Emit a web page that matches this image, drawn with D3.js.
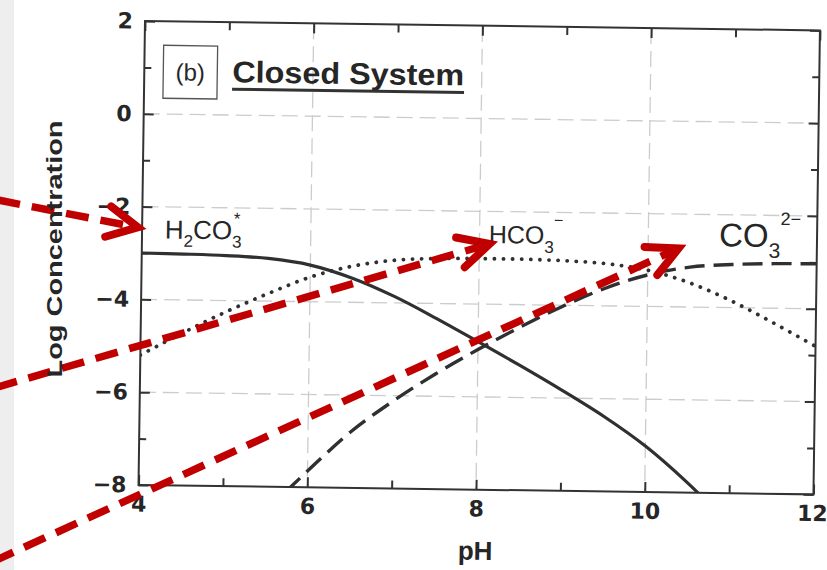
<!DOCTYPE html>
<meta charset="utf-8">
<title>Closed System</title>
<head>
  <script src="https://d3js.org/d3.v7.min.js"></script>
  <style>
    body { margin: 0; background: #fff; }
    text { font-family: "Liberation Sans", Arial, sans-serif; fill: #262626; }
  </style>
</head>
<body>
  <div id="chart"></div>
</body>
<script>
    // values (log concentration, C_T = 10^-3 M)
    var pHValues = [4, 4.5, 5, 5.5, 6, 6.5, 7, 7.5, 8, 8.5, 9, 9.5, 10, 10.5, 11, 11.5, 12];
    var h2co3 = [-3.00, -3.01, -3.03, -3.08, -3.21, -3.48, -3.86, -4.32, -4.81, -5.31, -5.83, -6.38, -7.01, -7.78, -8.66, null, null];
    var hco3  = [-5.20, -4.71, -4.25, -3.84, -3.47, -3.22, -3.08, -3.03, -3.02, -3.02, -3.04, -3.09, -3.22, -3.48, -3.86, -4.32, -4.81];
    var co3   = [null, null, null, -8.55, -7.65, -6.80, -6.12, -5.52, -4.98, -4.48, -4.02, -3.62, -3.32, -3.14, -3.07, -3.04, -3.03];

    var xMajor = [4, 6, 8, 10, 12];
    var xMinor = [5, 7, 9, 11];
    var yMajor = [2, 0, -2, -4, -6, -8];
    var yMinor = [1, -1, -3, -5, -7];
    var xGrid = [6, 8, 10];
    var yGrid = [0, -2, -4, -6];

    var width = 675, height = 464;

    var svg = d3.select("#chart")
      .append("svg")
        .attr("width", 827)
        .attr("height", 570);

    svg.append("rect").attr("width", 827).attr("height", 570).attr("fill", "#fff");
    svg.append("rect").attr("width", 14).attr("height", 570).attr("fill", "#eeeeee");

    // the scan is slightly tilted
    var g = svg.append("g")
        .attr("transform", "translate(145,21) rotate(0.8)");

    var x = d3.scaleLinear().domain([4, 12]).range([0, width]);
    var y = d3.scaleLinear().domain([-8, 2]).range([height, 0]);

    // grid
    g.selectAll(".gx").data(xGrid).enter().append("line")
        .attr("x1", d => x(d)).attr("x2", d => x(d))
        .attr("y1", 0).attr("y2", height)
        .attr("stroke", "#cccccc").attr("stroke-width", 1.3)
        .attr("stroke-dasharray", "16 7");
    g.selectAll(".gy").data(yGrid).enter().append("line")
        .attr("x1", 0).attr("x2", width)
        .attr("y1", d => y(d)).attr("y2", d => y(d))
        .attr("stroke", "#cccccc").attr("stroke-width", 1.3)
        .attr("stroke-dasharray", "16 7");

    function styleAxis(sel) {
      sel.select(".domain").remove();
      sel.selectAll("line").attr("stroke", "#333").attr("stroke-width", 2);
      sel.selectAll("text")
        .style("font-family", "'DejaVu Sans', sans-serif")
        .style("font-size", "22px").style("font-weight", "bold")
        .attr("fill", "#262626");
    }

    // axes with inward ticks
    var xAxisG = g.append("g").attr("transform", "translate(0," + height + ")")
        .call(d3.axisBottom(x).tickValues(xMajor).tickSizeInner(-10).tickSizeOuter(0).tickPadding(11).tickFormat(d3.format("d")))
        .call(styleAxis);
    // last label sits at the page edge, as in the scan
    xAxisG.selectAll("text").filter(d => d === 12).attr("text-anchor", "end").attr("dx", 14);
    g.append("g").attr("transform", "translate(0," + height + ")")
        .call(d3.axisBottom(x).tickValues(xMinor).tickSizeInner(-8).tickSizeOuter(0).tickFormat(""))
        .call(styleAxis);
    g.append("g")
        .call(d3.axisLeft(y).tickValues(yMajor).tickSizeInner(-10).tickSizeOuter(0).tickPadding(12).tickFormat(d3.format("d")))
        .call(styleAxis);
    g.append("g")
        .call(d3.axisLeft(y).tickValues(yMinor).tickSizeInner(-7).tickSizeOuter(0).tickFormat(""))
        .call(styleAxis);
    g.append("g")
        .call(d3.axisTop(x).tickValues(xMajor).tickSizeInner(-10).tickSizeOuter(0).tickFormat(""))
        .call(styleAxis);
    g.append("g")
        .call(d3.axisTop(x).tickValues(xMinor).tickSizeInner(-8).tickSizeOuter(0).tickFormat(""))
        .call(styleAxis);
    g.append("g").attr("transform", "translate(" + width + ",0)")
        .call(d3.axisRight(y).tickValues(yMajor).tickSizeInner(-10).tickSizeOuter(0).tickFormat(""))
        .call(styleAxis);
    g.append("g").attr("transform", "translate(" + width + ",0)")
        .call(d3.axisRight(y).tickValues(yMinor).tickSizeInner(-7).tickSizeOuter(0).tickFormat(""))
        .call(styleAxis);

    g.append("rect")
        .attr("width", width).attr("height", height)
        .attr("fill", "none").attr("stroke", "#333").attr("stroke-width", 2);

    // curves
    g.append("clipPath").attr("id", "plotclip")
      .append("rect").attr("width", width).attr("height", height);

    var line = d3.line()
        .defined(d => d[1] != null)
        .x(d => x(d[0]))
        .y(d => y(d[1]))
        .curve(d3.curveCatmullRom.alpha(0.5));

    var series = [
      { values: h2co3, dash: null, width: 3.2, cap: "butt" },
      { values: hco3, dash: "0.1 9", width: 3.8, cap: "round" },
      { values: co3, dash: "20 9", width: 3.4, cap: "butt" }
    ];

    g.append("g").attr("clip-path", "url(#plotclip)")
      .selectAll("path").data(series).enter().append("path")
        .attr("d", s => line(pHValues.map((p, i) => [p, s.values[i]])))
        .attr("fill", "none")
        .attr("stroke", "#303030")
        .attr("stroke-width", s => s.width)
        .attr("stroke-linecap", s => s.cap)
        .attr("stroke-dasharray", s => s.dash);

    // panel tag and title
    g.append("rect")
        .attr("x", 19).attr("y", 24).attr("width", 54).attr("height", 53)
        .attr("fill", "none").attr("stroke", "#555").attr("stroke-width", 1.3);
    g.append("text")
        .attr("x", 46).attr("y", 59).attr("text-anchor", "middle")
        .style("font-size", "24px")
        .text("(b)");
    g.append("text")
        .attr("x", 88).attr("y", 60)
        .attr("textLength", 232).attr("lengthAdjust", "spacingAndGlyphs")
        .style("font-size", "30px").style("font-weight", "bold")
        .text("Closed System");
    g.append("line")
        .attr("x1", 88).attr("x2", 320).attr("y1", 67).attr("y2", 67)
        .attr("stroke", "#333").attr("stroke-width", 3);

    // species labels
    var lab1 = g.append("text")
        .attr("x", x(4.27)).attr("y", y(-2.68))
        .style("font-size", "26px");
    lab1.append("tspan").text("H");
    lab1.append("tspan").attr("dy", 8).style("font-size", "17px").text("2");
    lab1.append("tspan").attr("dy", -8).text("CO");
    lab1.append("tspan").attr("dy", 8).style("font-size", "17px").text("3");
    lab1.append("tspan").attr("dx", -8).attr("dy", -23).style("font-size", "17px").text("*");

    var lab2 = g.append("text")
        .attr("x", x(8.11)).attr("y", y(-2.68))
        .style("font-size", "25px");
    lab2.append("tspan").text("HCO");
    lab2.append("tspan").attr("dy", 9).style("font-size", "17px").text("3");
    lab2.append("tspan").attr("dy", -27).style("font-size", "16px").text("\u2212");

    var lab3 = g.append("text")
        .attr("x", x(10.84)).attr("y", y(-2.68))
        .style("font-size", "33px");
    lab3.append("tspan").text("CO");
    lab3.append("tspan").attr("dy", 11).style("font-size", "21px").text("3");
    lab3.append("tspan").attr("dy", -33).style("font-size", "18px").text("2\u2212");

    // axis titles
    svg.append("text")
        .attr("transform", "translate(62,249) rotate(-90)")
        .attr("text-anchor", "middle")
        .attr("textLength", 257).attr("lengthAdjust", "spacingAndGlyphs")
        .style("font-size", "22px").style("font-weight", "bold")
        .text("Log Concentration");
    g.append("text")
        .attr("x", x(8)).attr("y", height + 70)
        .attr("text-anchor", "middle")
        .style("font-size", "26px").style("font-weight", "bold")
        .text("pH");

    // red annotation arrows pointing at the species labels
    var arrows = [
      { from: [2.28, -1.90], to: [3.95, -2.45] },
      { from: [2.28, -5.95], to: [8.12, -2.70] },
      { from: [2.28, -9.70], to: [10.36, -2.74] }
    ];
    var red = "#c00000";
    arrows.forEach(function(a) {
      var x0 = x(a.from[0]), y0 = y(a.from[1]), x1 = x(a.to[0]), y1 = y(a.to[1]);
      var ang = Math.atan2(y1 - y0, x1 - x0);
      g.append("line")
          .attr("x1", x0).attr("y1", y0).attr("x2", x1 - 6 * Math.cos(ang)).attr("y2", y1 - 6 * Math.sin(ang))
          .attr("stroke", red).attr("stroke-width", 7.5)
          .attr("stroke-dasharray", "23 12");
      var len = 34, spread = 27 * Math.PI / 180;
      var pts = [
        [x1 - len * Math.cos(ang - spread), y1 - len * Math.sin(ang - spread)],
        [x1, y1],
        [x1 - len * Math.cos(ang + spread), y1 - len * Math.sin(ang + spread)]
      ];
      g.append("polyline")
          .attr("points", pts.map(p => p.join(",")).join(" "))
          .attr("fill", "none").attr("stroke", red).attr("stroke-width", 8)
          .attr("stroke-linecap", "round").attr("stroke-linejoin", "miter");
    });
</script>
